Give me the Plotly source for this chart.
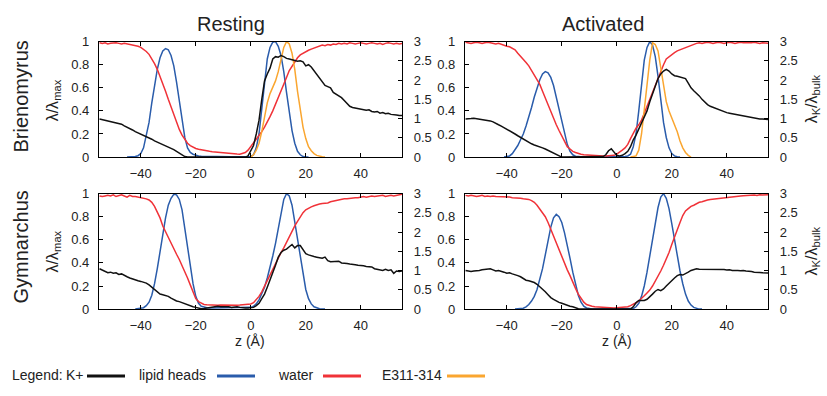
import plotly.graph_objects as go

# ---------------- data ----------------
COLUMN_TITLES = ["Resting", "Activated"]
ROW_LABELS = ["Brienomyrus", "Gymnarchus"]
X_TICKS = [-40, -20, 0, 20, 40]
Y_LEFT_TICKS = [0, 0.2, 0.4, 0.6, 0.8, 1]
Y_LEFT_TEXT = ["0", "0.2", "0.4", "0.6", "0.8", "1"]
Y_RIGHT_TICKS = [0, 0.5, 1, 1.5, 2, 2.5, 3]
Y_RIGHT_TEXT = ["0", "0.5", "1", "1.5", "2", "2.5", "3"]
LEGEND_NAMES = ["K+", "lipid heads", "water", "E311-314"]

# water and K+ profiles share a 1 Å grid from -55 to 55 Å
Z_GRID = list(range(-55, 56))

# ---- Brienomyrus, resting ----
BR_REST_WATER = [
    0.99, 0.985, 0.99, 0.98, 0.985, 0.99, 0.99, 0.985, 0.98, 0.985,
    0.98, 0.975, 0.975, 0.97, 0.96, 0.95, 0.935, 0.915, 0.89, 0.855,
    0.81, 0.76, 0.70, 0.64, 0.57, 0.50, 0.43, 0.36, 0.30, 0.24,
    0.19, 0.15, 0.12, 0.10, 0.085, 0.075, 0.068, 0.062, 0.057, 0.053,
    0.05, 0.047, 0.044, 0.041, 0.039, 0.037, 0.035, 0.033, 0.03, 0.028,
    0.026, 0.025, 0.03, 0.04, 0.06, 0.09, 0.12, 0.15, 0.185, 0.22,
    0.26, 0.30, 0.35, 0.40, 0.455, 0.51, 0.57, 0.63, 0.69, 0.75,
    0.79, 0.83, 0.86, 0.885, 0.90, 0.91, 0.925, 0.935, 0.945, 0.955,
    0.96, 0.97, 0.965, 0.975, 0.97, 0.98, 0.975, 0.985, 0.98, 0.985,
    0.98, 0.99, 0.985, 0.98, 0.985, 0.99, 0.985, 0.98, 0.985, 0.99,
    0.985, 0.98, 0.985, 0.975, 0.985, 0.99, 0.985, 0.98, 0.985, 0.98,
    0.985,
]
BR_REST_K = [
    0.99, 0.975, 0.96, 0.93, 0.915, 0.90, 0.894, 0.885, 0.855, 0.81,
    0.78, 0.735, 0.705, 0.66, 0.63, 0.60, 0.57, 0.54, 0.495, 0.465,
    0.42, 0.39, 0.36, 0.33, 0.30, 0.27, 0.225, 0.195, 0.15, 0.105,
    0.054, 0.015, 0, 0, 0, 0, 0, 0, 0, 0,
    0, 0, 0, 0, 0, 0, 0, 0, 0, 0,
    0, 0, 0, 0, 0.03, 0.15, 0.30, 0.60, 0.96, 1.50,
    1.98, 2.16, 2.31, 2.55, 2.61, 2.595, 2.64, 2.61, 2.565, 2.55,
    2.535, 2.52, 2.49, 2.505, 2.475, 2.37, 2.40, 2.34, 2.25, 2.13,
    2.04, 1.95, 1.86, 1.83, 1.80, 1.68, 1.635, 1.59, 1.545, 1.47,
    1.38, 1.32, 1.29, 1.275, 1.26, 1.245, 1.23, 1.215, 1.23, 1.185,
    1.17, 1.185, 1.14, 1.155, 1.125, 1.14, 1.11, 1.11, 1.095, 1.08,
    1.08,
]
BR_REST_LIPID_Z0 = -45
BR_REST_LIPID = [
    0, 0, 0.002, 0.005, 0.012, 0.03, 0.08, 0.18, 0.30, 0.47,
    0.63, 0.76, 0.86, 0.92, 0.94, 0.93, 0.88, 0.79, 0.65, 0.50,
    0.32, 0.17, 0.08, 0.04, 0.025, 0.015, 0.01, 0.008, 0.007, 0.006,
    0.005, 0.005, 0.004, 0.004, 0.003, 0.003, 0.003, 0.003, 0.003, 0.003,
    0.003, 0.003, 0.003, 0.003, 0.004, 0.006, 0.02, 0.08, 0.20, 0.42,
    0.66, 0.85, 0.95, 0.995, 1.0, 0.96, 0.88, 0.74, 0.56, 0.38,
    0.23, 0.12, 0.05, 0.02, 0.005, 0, 0,
]
BR_REST_E311_Z0 = 0
BR_REST_E311 = [
    0, 0.02, 0.06, 0.12, 0.22, 0.34, 0.47, 0.55, 0.60, 0.66,
    0.74, 0.85, 0.95, 1.0, 0.98, 0.90, 0.76, 0.57, 0.40, 0.26,
    0.16, 0.09, 0.055, 0.03, 0.015, 0.007, 0.003, 0,
]

# ---- Brienomyrus, activated ----
BR_ACT_WATER = [
    0.995, 0.99, 0.985, 0.99, 0.995, 0.99, 0.985, 0.99, 0.995, 0.99,
    0.985, 0.98, 0.985, 0.975, 0.97, 0.96, 0.955, 0.945, 0.93, 0.90,
    0.875, 0.85, 0.82, 0.79, 0.75, 0.71, 0.67, 0.63, 0.57, 0.51,
    0.45, 0.39, 0.34, 0.28, 0.23, 0.18, 0.13, 0.09, 0.07, 0.05,
    0.04, 0.03, 0.025, 0.02, 0.018, 0.015, 0.013, 0.012, 0.011, 0.01,
    0.01, 0.01, 0.01, 0.01, 0.015, 0.025, 0.04, 0.06, 0.08, 0.11,
    0.16, 0.21, 0.25, 0.28, 0.32, 0.38, 0.44, 0.50, 0.57, 0.63,
    0.69, 0.74, 0.80, 0.85, 0.87, 0.89, 0.905, 0.92, 0.93, 0.94,
    0.95, 0.96, 0.965, 0.975, 0.985, 0.99, 0.985, 0.99, 0.995, 0.99,
    0.985, 0.99, 0.995, 0.99, 0.985, 0.99, 0.995, 0.99, 0.985, 0.99,
    0.995, 0.99, 0.99, 0.985, 0.99, 0.995, 0.99, 0.985, 0.99, 0.99,
    0.985,
]
BR_ACT_K = [
    0.99, 0.99, 1.0, 1.01, 1.0, 0.99, 0.97, 0.965, 0.955, 0.94,
    0.915, 0.87, 0.84, 0.805, 0.765, 0.735, 0.695, 0.66, 0.60, 0.555,
    0.51, 0.465, 0.42, 0.375, 0.345, 0.315, 0.295, 0.27, 0.24, 0.21,
    0.174, 0.144, 0.09, 0.051, 0.024, 0, 0, 0, 0, 0,
    0, 0, 0, 0, 0, 0, 0, 0, 0, 0,
    0.015, 0.06, 0.165, 0.216, 0.12, 0.045, 0.03, 0.045, 0.09, 0.15,
    0.27, 0.45, 0.57, 0.72, 0.87, 1.02, 1.20, 1.44, 1.65, 1.86,
    2.04, 2.16, 2.235, 2.28, 2.235, 2.16, 2.115, 2.10, 2.085, 2.07,
    2.04, 1.92, 1.80, 1.725, 1.665, 1.59, 1.50, 1.425, 1.365, 1.32,
    1.29, 1.275, 1.23, 1.20, 1.185, 1.155, 1.14, 1.125, 1.11, 1.095,
    1.08, 1.065, 1.05, 1.035, 1.035, 1.02, 1.005, 0.99, 0.99, 0.975,
    0.975,
]
BR_ACT_LIPID_Z0 = -41
BR_ACT_LIPID = [
    0, 0.003, 0.01, 0.03, 0.06, 0.10, 0.15, 0.20, 0.27, 0.34,
    0.43, 0.52, 0.60, 0.67, 0.72, 0.74, 0.73, 0.69, 0.62, 0.52,
    0.42, 0.31, 0.20, 0.11, 0.05, 0.02, 0.008, 0.004, 0.003, 0.003,
    0.003, 0.003, 0.003, 0.003, 0.003, 0.003, 0.003, 0.003, 0.003, 0.003,
    0.003, 0.003, 0.003, 0.003, 0.005, 0.01, 0.025, 0.09, 0.20, 0.40,
    0.63, 0.84, 0.95, 1.0, 0.97, 0.87, 0.70, 0.49, 0.30, 0.17,
    0.08, 0.03, 0.01, 0.003, 0,
]
BR_ACT_E311_Z0 = 5
BR_ACT_E311 = [
    0, 0.005, 0.01, 0.06, 0.20, 0.41, 0.62, 0.84, 0.99, 0.975,
    0.92, 0.77, 0.61, 0.48, 0.40, 0.34, 0.28, 0.22, 0.14, 0.08,
    0.04, 0.015, 0,
]

# ---- Gymnarchus, resting ----
GY_REST_WATER = [
    0.98, 0.975, 0.98, 0.985, 0.98, 0.99, 0.975, 0.985, 0.99, 0.98,
    0.97, 0.985, 0.975, 0.975, 0.97, 0.97, 0.965, 0.955, 0.945, 0.925,
    0.89, 0.84, 0.79, 0.72, 0.67, 0.61, 0.57, 0.52, 0.475, 0.43,
    0.38, 0.33, 0.27, 0.21, 0.15, 0.09, 0.065, 0.05, 0.04, 0.038,
    0.036, 0.035, 0.035, 0.034, 0.035, 0.034, 0.033, 0.034, 0.033, 0.033,
    0.034, 0.035, 0.036, 0.038, 0.04, 0.045, 0.055, 0.08, 0.11, 0.15,
    0.20, 0.25, 0.30, 0.35, 0.395, 0.44, 0.49, 0.53, 0.58, 0.62,
    0.67, 0.72, 0.76, 0.80, 0.835, 0.86, 0.875, 0.885, 0.895, 0.905,
    0.91, 0.915, 0.915, 0.92, 0.93, 0.935, 0.94, 0.95, 0.95, 0.955,
    0.955, 0.96, 0.96, 0.965, 0.965, 0.97, 0.975, 0.97, 0.975, 0.98,
    0.975, 0.98, 0.98, 0.985, 0.975, 0.98, 0.985, 0.98, 0.985, 0.99,
    0.995,
]
GY_REST_K = [
    1.05, 1.02, 0.975, 0.945, 0.96, 0.93, 0.945, 0.90, 0.915, 0.87,
    0.84, 0.81, 0.78, 0.765, 0.735, 0.72, 0.705, 0.675, 0.63, 0.57,
    0.51, 0.435, 0.39, 0.375, 0.36, 0.33, 0.285, 0.24, 0.21, 0.195,
    0.165, 0.135, 0.105, 0.09, 0.06, 0.045, 0.024, 0.009, 0.015, 0.03,
    0.045, 0.06, 0.06, 0.075, 0.06, 0.06, 0.075, 0.06, 0.045, 0.06,
    0.06, 0.045, 0.03, 0.03, 0.03, 0.03, 0.045, 0.09, 0.15, 0.27,
    0.39, 0.57, 0.75, 0.93, 1.14, 1.35, 1.47, 1.53, 1.56, 1.62,
    1.68, 1.59, 1.65, 1.65, 1.53, 1.44, 1.41, 1.38, 1.365, 1.35,
    1.335, 1.32, 1.35, 1.26, 1.23, 1.23, 1.23, 1.245, 1.20, 1.20,
    1.185, 1.17, 1.17, 1.155, 1.14, 1.14, 1.125, 1.11, 1.095, 1.095,
    1.05, 1.035, 1.02, 1.005, 1.035, 1.005, 1.02, 0.93, 0.99, 0.975,
    0.99,
]
GY_REST_LIPID_Z0 = -42
GY_REST_LIPID = [
    0, 0.002, 0.005, 0.012, 0.03, 0.06, 0.12, 0.22, 0.35, 0.50,
    0.65, 0.79, 0.90, 0.96, 0.995, 0.99, 0.95, 0.86, 0.70, 0.53,
    0.36, 0.22, 0.11, 0.05, 0.025, 0.015, 0.012, 0.01, 0.01, 0.01,
    0.01, 0.01, 0.01, 0.01, 0.01, 0.01, 0.01, 0.01, 0.01, 0.01,
    0.01, 0.012, 0.015, 0.025, 0.045, 0.08, 0.13, 0.19, 0.27, 0.36,
    0.46, 0.57, 0.70, 0.83, 0.95, 1.0, 0.98, 0.90, 0.75, 0.58,
    0.43, 0.29, 0.17, 0.09, 0.045, 0.02, 0.008, 0.003, 0, 0,
]

# ---- Gymnarchus, activated ----
GY_ACT_WATER = [
    0.985, 0.98, 0.985, 0.98, 0.975, 0.98, 0.985, 0.975, 0.98, 0.975,
    0.98, 0.975, 0.975, 0.97, 0.975, 0.97, 0.97, 0.965, 0.965, 0.96,
    0.96, 0.955, 0.953, 0.95, 0.94, 0.925, 0.90, 0.87, 0.835, 0.80,
    0.75, 0.69, 0.63, 0.57, 0.52, 0.46, 0.40, 0.34, 0.29, 0.23,
    0.18, 0.13, 0.09, 0.06, 0.04, 0.03, 0.025, 0.02, 0.018, 0.016,
    0.015, 0.013, 0.012, 0.01, 0.01, 0.012, 0.013, 0.015, 0.018, 0.02,
    0.03, 0.04, 0.055, 0.07, 0.09, 0.115, 0.14, 0.165, 0.20, 0.24,
    0.28, 0.33, 0.38, 0.43, 0.49, 0.56, 0.63, 0.69, 0.75, 0.81,
    0.85, 0.87, 0.89, 0.90, 0.915, 0.925, 0.93, 0.94, 0.945, 0.95,
    0.953, 0.955, 0.96, 0.965, 0.968, 0.97, 0.972, 0.975, 0.978, 0.98,
    0.98, 0.982, 0.985, 0.983, 0.985, 0.988, 0.985, 0.99, 0.988, 0.99,
    0.99,
]
GY_ACT_K = [
    1.005, 0.99, 0.975, 0.99, 0.99, 1.005, 1.02, 1.035, 1.035, 1.05,
    1.02, 0.99, 1.005, 0.99, 0.96, 0.93, 0.945, 0.915, 0.90, 0.87,
    0.84, 0.795, 0.75, 0.735, 0.72, 0.69, 0.645, 0.585, 0.525, 0.45,
    0.375, 0.30, 0.255, 0.21, 0.174, 0.15, 0.12, 0.09, 0.075, 0.06,
    0.03, 0.009, 0, 0, 0, 0, 0, 0, 0, 0,
    0, 0, 0, 0, 0, 0, 0, 0, 0, 0,
    0, 0.06, 0.165, 0.225, 0.225, 0.225, 0.255, 0.315, 0.39, 0.465,
    0.51, 0.48, 0.525, 0.60, 0.675, 0.735, 0.81, 0.87, 0.90, 0.885,
    0.915, 0.96, 1.005, 1.035, 1.05, 1.035, 1.035, 1.02, 1.026, 1.035,
    1.02, 1.029, 1.026, 1.02, 1.026, 1.014, 1.02, 1.005, 1.014, 1.005,
    0.999, 1.005, 0.99, 0.99, 0.975, 0.96, 0.966, 0.954, 0.945, 0.945,
    0.936,
]
GY_ACT_LIPID_Z0 = -37
GY_ACT_LIPID = [
    0, 0.001, 0.003, 0.008, 0.02, 0.04, 0.07, 0.11, 0.17, 0.25,
    0.35, 0.47, 0.60, 0.71, 0.79, 0.82, 0.80, 0.75, 0.66, 0.56,
    0.44, 0.32, 0.21, 0.12, 0.06, 0.025, 0.01, 0.003, 0.001, 0.001,
    0.001, 0.001, 0.001, 0.001, 0.001, 0.001, 0.001, 0.001, 0.001, 0.001,
    0.001, 0.001, 0.002, 0.005, 0.02, 0.05, 0.11, 0.20, 0.32, 0.46,
    0.61, 0.76, 0.88, 0.97, 1.0, 0.96, 0.87, 0.74, 0.60, 0.46,
    0.33, 0.22, 0.13, 0.07, 0.035, 0.015, 0.005, 0, 0,
]

PANELS = [
    dict(row=0, col=0, water=BR_REST_WATER, k=BR_REST_K,
         lipid=BR_REST_LIPID, lipid_z0=BR_REST_LIPID_Z0,
         e311=BR_REST_E311, e311_z0=BR_REST_E311_Z0),
    dict(row=0, col=1, water=BR_ACT_WATER, k=BR_ACT_K,
         lipid=BR_ACT_LIPID, lipid_z0=BR_ACT_LIPID_Z0,
         e311=BR_ACT_E311, e311_z0=BR_ACT_E311_Z0),
    dict(row=1, col=0, water=GY_REST_WATER, k=GY_REST_K,
         lipid=GY_REST_LIPID, lipid_z0=GY_REST_LIPID_Z0,
         e311=None, e311_z0=None),
    dict(row=1, col=1, water=GY_ACT_WATER, k=GY_ACT_K,
         lipid=GY_ACT_LIPID, lipid_z0=GY_ACT_LIPID_Z0,
         e311=None, e311_z0=None),
]

# ---------------- styling / layout ----------------
W, H = 827, 396
C_K = "#111111"
C_LIPID = "#2a5cab"
C_WATER = "#f03238"
C_E311 = "#faa630"
FONT = "Liberation Sans, Arial, Helvetica, sans-serif"
TXT = "#222222"

X_PIX = [(99, 402), (465, 768)]   # plot-area pixel extents per column
Y_PIX = [(36, 156), (194, 314)]   # plot-area pixel extents per row


def px(x):
    return x / W


def py(y):
    return 1 - y / H


fig = go.Figure()
layout = {}

for i, p in enumerate(PANELS):
    n = i + 1
    xa = "x" if n == 1 else f"x{n}"
    yl_idx = 2 * n - 1
    yr_idx = 2 * n
    yl = "y" if yl_idx == 1 else f"y{yl_idx}"
    yr = f"y{yr_idx}"

    lz = list(range(p["lipid_z0"], p["lipid_z0"] + len(p["lipid"])))
    fig.add_trace(go.Scatter(x=lz, y=p["lipid"], xaxis=xa, yaxis=yl, mode="lines",
                             line=dict(color=C_LIPID, width=1.5), name=LEGEND_NAMES[1]))
    fig.add_trace(go.Scatter(x=Z_GRID, y=p["water"], xaxis=xa, yaxis=yl, mode="lines",
                             line=dict(color=C_WATER, width=1.5), name=LEGEND_NAMES[2]))
    if p["e311"] is not None:
        ez = list(range(p["e311_z0"], p["e311_z0"] + len(p["e311"])))
        fig.add_trace(go.Scatter(x=ez, y=p["e311"], xaxis=xa, yaxis=yl, mode="lines",
                                 line=dict(color=C_E311, width=1.5), name=LEGEND_NAMES[3]))
    fig.add_trace(go.Scatter(x=Z_GRID, y=p["k"], xaxis=xa, yaxis=yr, mode="lines",
                             line=dict(color=C_K, width=1.5), name=LEGEND_NAMES[0]))

    x0, x1 = X_PIX[p["col"]]
    y0, y1 = Y_PIX[p["row"]]
    axis_common = dict(showgrid=False, zeroline=False, showline=True, linecolor="black",
                       linewidth=1.3, ticks="inside", ticklen=4, tickwidth=1,
                       tickcolor="black", tickfont=dict(family=FONT, size=13, color=TXT))
    layout["xaxis" if n == 1 else f"xaxis{n}"] = dict(
        axis_common, domain=[px(x0), px(x1)], range=[-55.2, 55], tickvals=X_TICKS,
        mirror="ticks", anchor=yl, ticklabelstandoff=4)
    layout["yaxis" if yl_idx == 1 else f"yaxis{yl_idx}"] = dict(
        axis_common, domain=[py(y1), py(y0)], range=[0, 1], tickvals=Y_LEFT_TICKS,
        ticktext=Y_LEFT_TEXT, anchor=xa, ticklabelstandoff=6)
    layout[f"yaxis{yr_idx}"] = dict(
        axis_common, range=[0, 3], tickvals=Y_RIGHT_TICKS, ticktext=Y_RIGHT_TEXT,
        overlaying=yl, side="right", anchor=xa, ticklabelstandoff=8)

annotations = []
# column titles
for c, t in enumerate(COLUMN_TITLES):
    annotations.append(dict(text=t, x=px([231, 603][c]), y=py(18), xref="paper", yref="paper",
                            showarrow=False, xanchor="center", yanchor="middle",
                            font=dict(family=FONT, size=20, color=TXT)))
# row labels and axis titles
for r, t in enumerate(ROW_LABELS):
    yc = [93, 250][r]
    annotations.append(dict(text=t, x=px(21), y=py(yc), xref="paper", yref="paper",
                            showarrow=False, textangle=-90, xanchor="center", yanchor="middle",
                            font=dict(family=FONT, size=20, color=TXT)))
    annotations.append(dict(text="λ/λ<sub>max</sub>", x=px(53), y=py([97, 254][r]),
                            xref="paper", yref="paper", showarrow=False, textangle=-90,
                            xanchor="center", yanchor="middle",
                            font=dict(family=FONT, size=16, color=TXT)))
    annotations.append(dict(text="λ<sub>K</sub>/λ<sub>bulk</sub>", x=px(812), y=py([96, 254][r]),
                            xref="paper", yref="paper", showarrow=False, textangle=-90,
                            xanchor="center", yanchor="middle",
                            font=dict(family=FONT, size=16, color=TXT)))
for c in range(2):
    annotations.append(dict(text="z (Å)", x=px([250, 617][c]), y=py(347), xref="paper",
                            yref="paper", showarrow=False, xanchor="center", yanchor="middle",
                            font=dict(family=FONT, size=14, color=TXT)))

# custom legend
LEG_Y = 383
LEG_FONT = dict(family=FONT, size=14, color=TXT)
annotations.append(dict(text="Legend:", x=px(10), y=py(LEG_Y), xref="paper", yref="paper",
                        showarrow=False, xanchor="left", yanchor="middle", font=LEG_FONT))
leg_text_right = [86, 208, 316, 444]
leg_line = [(87, 125), (217, 255), (323, 361), (447, 485)]
leg_colors = [C_K, C_LIPID, C_WATER, C_E311]
shapes = []
for name, tr, (l0, l1), col in zip(LEGEND_NAMES, leg_text_right, leg_line, leg_colors):
    annotations.append(dict(text=name, x=px(tr), y=py(LEG_Y), xref="paper", yref="paper",
                            showarrow=False, xanchor="right", yanchor="middle", font=LEG_FONT))
    shapes.append(dict(type="line", xref="paper", yref="paper", x0=px(l0), x1=px(l1),
                       y0=py(LEG_Y + 0.5), y1=py(LEG_Y + 0.5), line=dict(color=col, width=3)))

fig.update_layout(
    width=W, height=H, margin=dict(l=0, r=0, t=0, b=0),
    paper_bgcolor="white", plot_bgcolor="white", showlegend=False,
    annotations=annotations, shapes=shapes, **layout,
)

fig.write_html("out.html")
